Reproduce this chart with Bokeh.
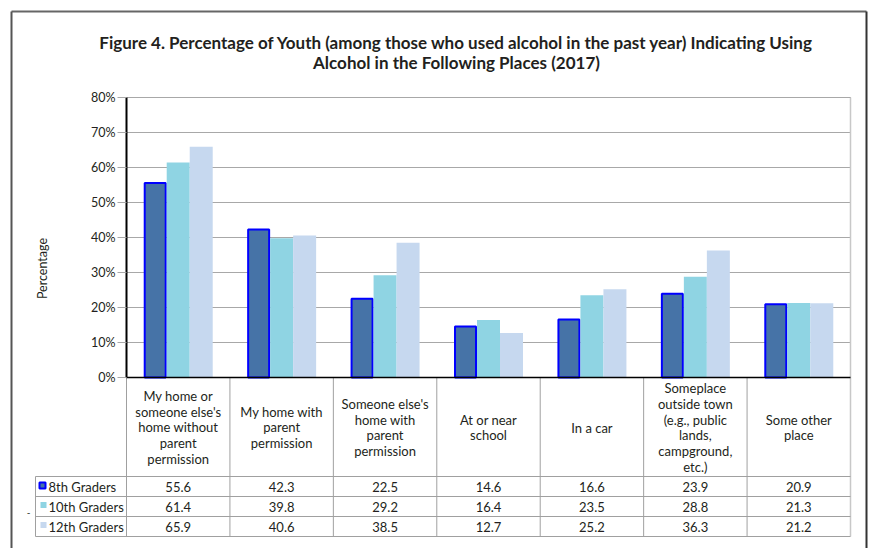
import math
from bokeh.plotting import figure
from bokeh.models import Range1d, FixedTicker, LinearAxis, ColumnDataSource
from bokeh.embed import file_html
from bokeh.resources import INLINE
from bokeh.core.properties import value

# ---------------- data ----------------
categories = [
    "My home or\nsomeone else's\nhome without\nparent\npermission",
    "My home with\nparent\npermission",
    "Someone else's\nhome with\nparent\npermission",
    "At or near\nschool",
    "In a car",
    "Someplace\noutside town\n(e.g., public\nlands,\ncampground,\netc.)",
    "Some other\nplace",
]
series_names = ["8th Graders", "10th Graders", "12th Graders"]
grade8 = [55.6, 42.3, 22.5, 14.6, 16.6, 23.9, 20.9]
grade10 = [61.4, 39.8, 29.2, 16.4, 23.5, 28.8, 21.3]
grade12 = [65.9, 40.6, 38.5, 12.7, 25.2, 36.3, 21.2]
y_ticks = [0, 10, 20, 30, 40, 50, 60, 70, 80]
y_tick_labels = ["0%", "10%", "20%", "30%", "40%", "50%", "60%", "70%", "80%"]
title_lines = [
    "Figure 4. Percentage of Youth (among those who used alcohol in the past year) Indicating Using",
    "Alcohol in the Following Places (2017)",
]
y_label = "Percentage"

# ---------------- style / layout ----------------
FONT = "Lato"
W, H = 873, 548
FL, FR, FT, FB = 126, 850, 97, 377      # bar area in pixels
NCAT = len(categories)
COL = (FR - FL) / NCAT
YMAX = 80.0
PXY = (FB - FT) / YMAX
colors = ["#4673A7", "#8FD4E3", "#C6D8EF"]
BAR_W = 23 / COL
GRID = "#A8A8A8"
TABLE_LINE = "#A0A0A0"
TEXT = "#231F20"
ROW_LABEL_BOTTOM = 476
ROW_H = 20
LEG_L = 35
BOX_L, BOX_T, BOX_R = 11, 11, 866


def px2x(px):
    return (px - FL) / COL


def py2y(py):
    return (FB - py) / PXY


p = figure(width=W, height=H, x_range=Range1d(px2x(0), px2x(W)), y_range=Range1d(py2y(H), py2y(0)),
           output_backend="svg", toolbar_location=None, x_axis_location=None, y_axis_location=None,
           min_border_left=0, min_border_right=0, min_border_top=0, min_border_bottom=0)
p.grid.visible = False
p.outline_line_color = None
p.background_fill_color = "white"
p.border_fill_color = "white"

# outer frame
p.segment(x0=[px2x(BOX_L), px2x(BOX_L), px2x(BOX_R)], x1=[px2x(BOX_R), px2x(BOX_L), px2x(BOX_R)],
          y0=[py2y(BOX_T), py2y(BOX_T), py2y(BOX_T)], y1=[py2y(BOX_T), py2y(H + 5), py2y(H + 5)],
          line_color=["#666666", "#555555", "#333333"], line_width=2)

# gridlines and plot-area border
p.segment(x0=[0] * len(y_ticks), x1=[NCAT] * len(y_ticks), y0=y_ticks, y1=y_ticks,
          line_color=GRID, line_width=1)
p.segment(x0=[NCAT], x1=[NCAT], y0=[YMAX], y1=[py2y(ROW_LABEL_BOTTOM + 3 * ROW_H)],
          line_color="#C8C8C8", line_width=1.5)

# y axis at the left edge of the bar area
ax = LinearAxis(fixed_location=0, bounds=(0, YMAX), ticker=FixedTicker(ticks=y_ticks))
ax.major_label_overrides = {t: l for t, l in zip(y_ticks, y_tick_labels)}
ax.minor_tick_line_color = None
ax.major_tick_in = 0
ax.major_tick_out = 9
ax.major_tick_line_color = GRID
ax.axis_line_color = "black"
ax.axis_line_width = 2
ax.major_label_standoff = 2
ax.major_label_text_font = FONT
ax.major_label_text_font_size = "12.5px"
ax.major_label_text_color = TEXT
p.add_layout(ax, "left")

# bars
centers = [i + 0.5 for i in range(NCAT)]
for k, vals in enumerate([grade8, grade10, grade12]):
    src = ColumnDataSource(dict(x=[c + (k - 1) * BAR_W for c in centers], top=vals))
    if k == 0:
        p.vbar(x="x", top="top", bottom=0, width=BAR_W - 2 / COL, source=src,
               fill_color=colors[k], line_color="#0000FF", line_width=2)
    else:
        p.vbar(x="x", top="top", bottom=0, width=BAR_W, source=src,
               fill_color=colors[k], line_color=None)

# title and y label
p.text(x=[px2x(456)] * 2, y=[py2y(42), py2y(62)], text=title_lines, text_align="center",
       text_baseline="middle", text_font=value(FONT), text_font_size="17px",
       text_font_style="bold", text_color=TEXT)
p.text(x=[px2x(42)], y=[py2y(268)], text=[y_label], angle=math.pi / 2,
       text_align="center", text_baseline="middle", text_font=value(FONT),
       text_font_size="12.5px", text_color=TEXT)

# ---------------- data table ----------------
row_lines = [ROW_LABEL_BOTTOM + k * ROW_H for k in range(4)]
table_bottom = row_lines[-1]
p.segment(x0=list(range(NCAT)), x1=list(range(NCAT)),
          y0=[0] * NCAT, y1=[py2y(table_bottom)] * NCAT,
          line_color=TABLE_LINE, line_width=1)
p.segment(x0=[px2x(LEG_L)], x1=[px2x(LEG_L)], y0=[py2y(ROW_LABEL_BOTTOM)], y1=[py2y(table_bottom)],
          line_color=TABLE_LINE, line_width=1)
p.segment(x0=[px2x(LEG_L)] * 4, x1=[NCAT] * 4, y0=[py2y(r) for r in row_lines],
          y1=[py2y(r) for r in row_lines], line_color=TABLE_LINE, line_width=1)
# baseline of the bar area and top border of the bar area
p.segment(x0=[0, 0], x1=[NCAT, NCAT], y0=[0, YMAX], y1=[0, YMAX],
          line_color=["black", GRID], line_width=[1.5, 1])

# category labels
p.text(x=centers, y=[py2y((FB + ROW_LABEL_BOTTOM) / 2 + 0.5)] * NCAT, text=categories,
       text_align="center", text_baseline="middle", text_font=value(FONT),
       text_font_size="13px", text_color=TEXT, text_line_height=0.99)

# legend keys + names
row_c = [ROW_LABEL_BOTTOM + ROW_H * (k + 0.5) for k in range(3)]
p.rect(x=[px2x(42)], y=[py2y(row_c[0] - 1)], width=6 / COL, height=6 / PXY, fill_color=colors[0],
       line_color="#0000FF", line_width=2)
p.rect(x=[px2x(43), px2x(43)], y=[py2y(row_c[1] - 1.5), py2y(row_c[2] - 1.5)], width=6 / COL,
       height=6 / PXY, fill_color=colors[1:], line_color=None)
p.text(x=[px2x(48)] * 3, y=[py2y(c) for c in row_c], text=series_names, text_align="left",
       text_baseline="middle", text_font=value(FONT), text_font_size="13px", text_color=TEXT)

# values
for k, vals in enumerate([grade8, grade10, grade12]):
    p.text(x=centers, y=[py2y(row_c[k])] * NCAT, text=["%.1f" % v for v in vals],
           text_align="center", text_baseline="middle", text_font=value(FONT),
           text_font_size="13px", text_color=TEXT)
p.text(x=[px2x(28)], y=[py2y(512)], text=["-"], text_align="center", text_baseline="middle",
       text_font=value(FONT), text_font_size="10px", text_color=TEXT)

open("out.html", "w").write(file_html(p, INLINE))
